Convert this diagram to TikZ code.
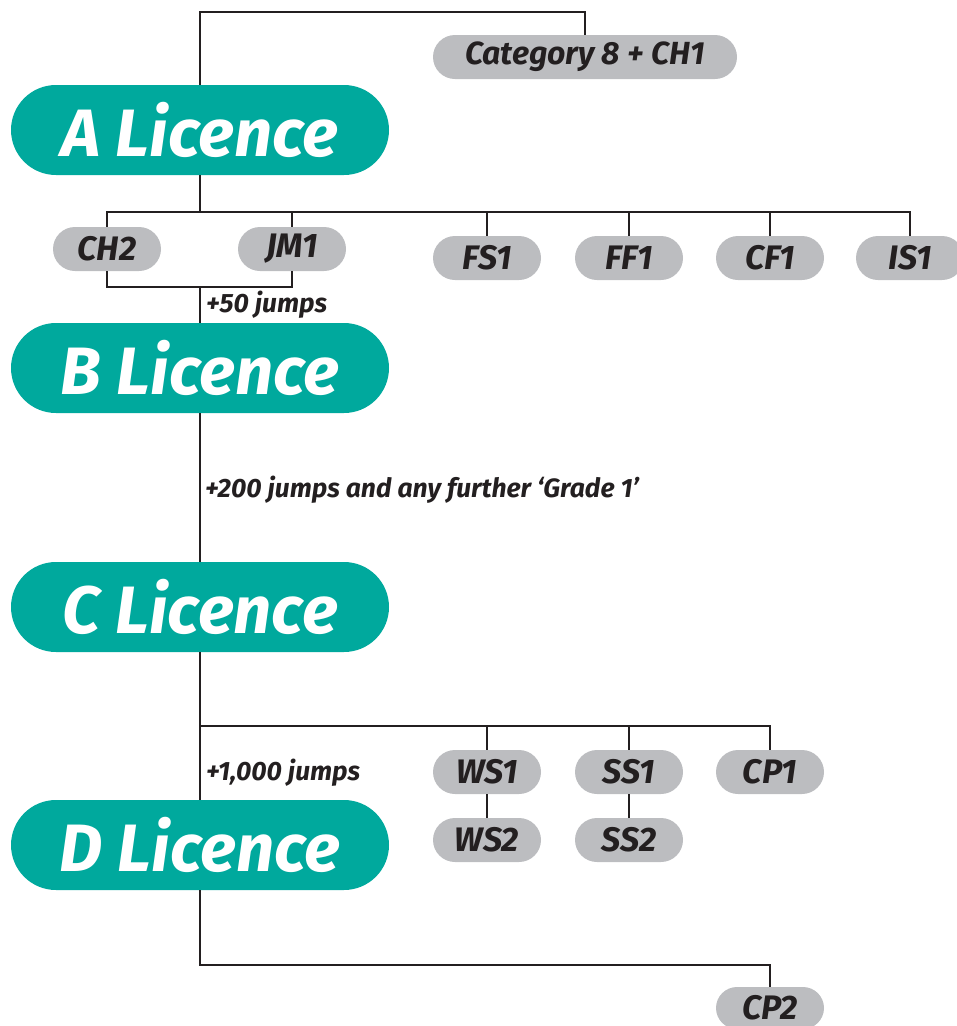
\documentclass[tikz,border=0pt]{standalone}
\usepackage{fontspec}
\newfontfamily\firabi[BoldItalicFont={* Bold Italic}]{Fira Sans}
\definecolor{tealc}{HTML}{00A99D}
\definecolor{greyc}{HTML}{BCBDC0}
\definecolor{inkc}{HTML}{231F20}
\tikzset{
  bigpill/.style={fill=tealc, rounded corners=45pt, minimum width=378pt, minimum height=90pt, inner sep=0pt, text=white, font=\firabi\bfseries\itshape\fontsize{67}{72}\selectfont},
  smallpill/.style={fill=greyc, rounded corners=22pt, minimum width=108pt, minimum height=44pt, inner sep=0pt, text=inkc, font=\firabi\bfseries\itshape\fontsize{34}{38}\selectfont},
  lab/.style={anchor=west, inner sep=0pt, text=inkc, font=\firabi\bfseries\itshape\fontsize{26.5}{30}\selectfont},
  conn/.style={draw=inkc, line width=2pt}
}
\begin{document}
\begin{tikzpicture}[x=1pt,y=-1pt]
\useasboundingbox (0,0) rectangle (957,1026);
% main licences
\node[bigpill] (A) at (200,130) {A Licence};
\node[bigpill] (B) at (200,368) {B Licence};
\node[bigpill] (C) at (200,607) {C Licence};
\node[bigpill] (D) at (200,845) {D Licence};
% small pills
\node[smallpill, minimum width=304pt, font=\firabi\bfseries\itshape\fontsize{32}{36}\selectfont] (cat) at (585,57) {Category 8 + CH1};
\node[smallpill] (CH2) at (107,249) {CH2};
\node[smallpill] (JM1) at (292,249) {JM1};
\node[smallpill] (FS1) at (487,258) {FS1};
\node[smallpill] (FF1) at (629,258) {FF1};
\node[smallpill] (CF1) at (770,258) {CF1};
\node[smallpill] (IS1) at (910,258) {IS1};
\node[smallpill] (WS1) at (487,772) {WS1};
\node[smallpill] (SS1) at (629,772) {SS1};
\node[smallpill] (CP1) at (770,772) {CP1};
\node[smallpill] (WS2) at (487,840) {WS2};
\node[smallpill] (SS2) at (629,840) {SS2};
\node[smallpill, minimum height=42pt, rounded corners=21pt] (CP2) at (770,1008) {CP2};
% labels
\node[lab] (l50) at (206,305) {+50 jumps};
\node[lab] (l200) at (205,490) {+200 jumps and any further ‘Grade 1’};
\node[lab] (l1000) at (206,773) {+1,000 jumps};
% helper coordinates
\coordinate (top) at (585,12);
\coordinate (bus1) at (200,212);
\coordinate (j1) at (200,287);
\coordinate (bus3) at (200,726);
\coordinate (b4) at (200,965);
% connectors
\draw[conn] (A.north) |- (top) -- (cat.north);
\draw[conn] (A.south) -- (bus1);
\draw[conn] (CH2.north) |- (IS1.north |- bus1) -- (IS1.north);
\draw[conn] (JM1.north) -- (JM1.north |- bus1);
\draw[conn] (FS1.north) -- (FS1.north |- bus1);
\draw[conn] (FF1.north) -- (FF1.north |- bus1);
\draw[conn] (CF1.north) -- (CF1.north |- bus1);
\draw[conn] (CH2.south) |- (j1) -| (JM1.south);
\draw[conn] (j1) -- (B.north);
\draw[conn] (B.south) -- (C.north);
\draw[conn] (C.south) -- (D.north);
\draw[conn] (bus3) -| (CP1.north);
\draw[conn] (WS1.north) -- (WS1.north |- bus3);
\draw[conn] (SS1.north) -- (SS1.north |- bus3);
\draw[conn] (WS1.south) -- (WS2.north);
\draw[conn] (SS1.south) -- (SS2.north);
\draw[conn] (D.south) -- (b4) -| (CP2.north);
\end{tikzpicture}
\end{document}
